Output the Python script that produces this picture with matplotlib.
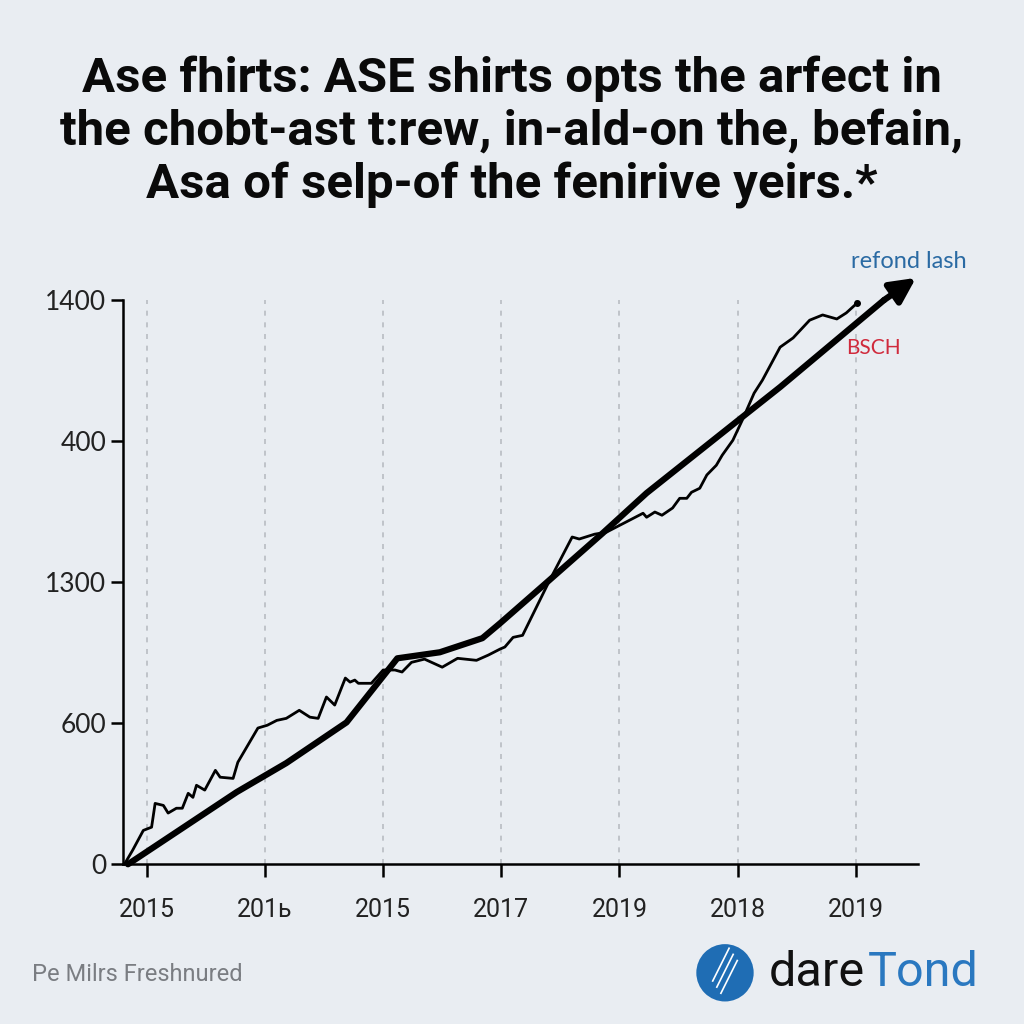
import matplotlib.pyplot as plt
from matplotlib.patches import Circle

# tick labels as printed on the chart
x_labels = ["2015", "201ь", "2015", "2017", "2019", "2018", "2019"]
y_ticks = [0, 350, 700, 1050, 1400]
y_labels = ["0", "600", "1300", "400", "1400"]

# thick trend line (x = position along the year ticks, y = value)
trend_x = [-0.16, 0.76, 1.18, 1.69, 2.12, 2.48, 2.84, 2.99, 3.38, 3.86, 4.23, 5.08, 5.36, 6.24]
trend_y = [0, 179, 251, 352, 511, 526, 561, 598, 698, 822, 921, 1119, 1184, 1400]
arrow_tip = (6.51, 1455)

# thin noisy series
series_x = [-0.19, -0.12, -0.03, 0.04, 0.07, 0.14, 0.18, 0.25, 0.30, 0.35, 0.39, 0.42,
            0.49, 0.58, 0.62, 0.73, 0.77, 0.94, 1.02, 1.10, 1.18, 1.29, 1.38, 1.45,
            1.52, 1.59, 1.68, 1.72, 1.76, 1.79, 1.90, 2.00, 2.10, 2.16, 2.24, 2.35,
            2.50, 2.63, 2.79, 2.89, 2.99, 3.03, 3.10, 3.18, 3.41, 3.60, 3.66, 3.79,
            3.89, 4.20, 4.23, 4.30, 4.36, 4.45, 4.51, 4.57, 4.61, 4.68, 4.74, 4.82,
            4.87, 4.96, 5.04, 5.14, 5.21, 5.36, 5.47, 5.61, 5.72, 5.84, 5.92, 6.01]
series_y = [0, 35, 84, 92, 151, 146, 127, 139, 139, 176, 166, 196,
            184, 233, 216, 213, 253, 338, 345, 357, 362, 382, 365, 362,
            415, 395, 462, 452, 457, 449, 449, 482, 482, 477, 501, 509,
            489, 511, 506, 519, 534, 539, 563, 568, 705, 812, 807, 819,
            824, 871, 861, 874, 866, 884, 908, 908, 923, 933, 966, 990,
            1015, 1052, 1102, 1169, 1201, 1283, 1306, 1350, 1363, 1353, 1368, 1392]

bg = "#E9EDF2"
fig = plt.figure(figsize=(10.24, 10.24), dpi=100, facecolor=bg)
ax = fig.add_axes([0.120, 0.156, 0.776, 0.551], facecolor=bg)

xs = range(len(x_labels))
for x in xs:
    ax.axvline(x, color="#b8bcc2", lw=1.2, ls=(0, (3, 4)), zorder=0)

ax.plot(series_x, series_y, color="black", lw=2.0, solid_joinstyle="round",
        clip_on=False, zorder=3)
ax.plot(series_x[-1], series_y[-1], "o", color="black", ms=4, clip_on=False, zorder=3)
ax.plot(trend_x, trend_y, color="black", lw=4.5, solid_capstyle="round",
        solid_joinstyle="round", clip_on=False, zorder=4)
ax.annotate("", xy=arrow_tip, xytext=(trend_x[-1], trend_y[-1]),
            arrowprops=dict(arrowstyle="-|>", lw=4.5, color="black", mutation_scale=38,
                            shrinkA=0, shrinkB=0),
            annotation_clip=False, zorder=5)

ax.set_xlim(-0.203, 6.523)
ax.set_ylim(0, 1400)
ax.set_xticks(list(xs))
ax.set_xticklabels(x_labels, fontsize=18, family="Roboto", color="#222222")
ax.set_yticks(y_ticks)
ax.set_yticklabels(y_labels, fontsize=19, family="Lato", color="#222222")
for s in ["top", "right"]:
    ax.spines[s].set_visible(False)
for s in ["left", "bottom"]:
    ax.spines[s].set_linewidth(1.8)
ax.tick_params(axis="both", length=9, width=1.8, color="black")
ax.tick_params(axis="x", pad=15)
ax.tick_params(axis="y", pad=3)

ax.text(6.45, 1495, "refond lash", color="#2a6aa3", fontsize=17, family="Lato",
        ha="center", va="center", clip_on=False)
ax.text(6.15, 1280, "BSCH", color="#d02a3c", fontsize=15, family="Lato",
        ha="center", va="center", clip_on=False)

title = ("Ase fhirts: ASE shirts opts the arfect in\n"
         "the chobt-ast t:rew, in-ald-on the, befain,\n"
         "Asa of selp-of the fenirive yeirs.*")
fig.text(0.5, 0.871, title, ha="center", va="center", fontsize=35.5, fontweight="bold",
         family="Roboto", color="#0a0a0a", linespacing=1.2)

fig.text(0.031, 0.048, "Pe Milrs Freshnured", fontsize=17, family="Roboto",
         color="#7a7d82", ha="left", va="center")

fig.patches.append(Circle((0.708, 0.050), 0.028, transform=fig.transFigure,
                          facecolor="#1f6db4", edgecolor="none"))
for dx, dy in [(-0.004, 0.012), (0.0, 0.006), (0.004, 0.0)]:
    fig.lines.append(plt.Line2D([0.700 + dx, 0.716 + dx], [0.030 + dy, 0.062 + dy],
                                transform=fig.transFigure, color="white", lw=1.2))
t = fig.text(0.751, 0.050, "dare", fontsize=35, family="Roboto", color="#111111",
             ha="left", va="center")
ax.annotate("Tond", xy=(1, 0.5), xycoords=t, xytext=(2, 0), textcoords="offset points",
            fontsize=35, family="Roboto", color="#2a78c0", ha="left", va="center",
            annotation_clip=False)

fig.savefig("out.png", dpi=100, facecolor=bg)
